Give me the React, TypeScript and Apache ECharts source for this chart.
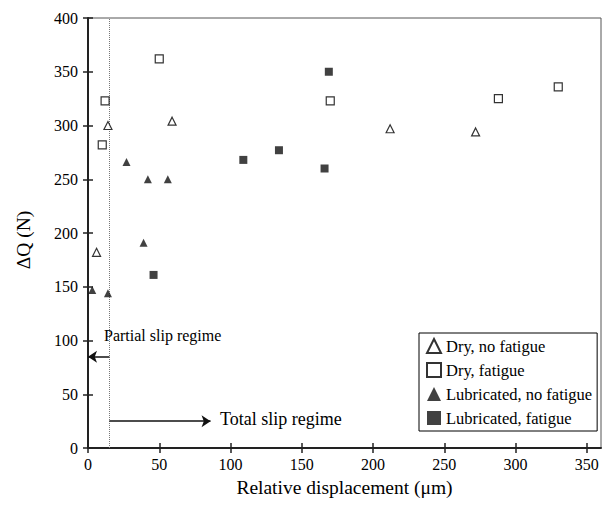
import React, { useEffect, useRef } from "react";
import * as echarts from "echarts";

const dryNoFatigue: [number, number][] = [
  [6, 182], [14, 300], [59, 304], [212, 297], [272, 294],
];
const dryFatigue: [number, number][] = [
  [10, 282], [12, 323], [50, 362], [170, 323], [288, 325], [330, 336],
];
const lubNoFatigue: [number, number][] = [
  [3, 147], [14, 144], [27, 266], [39, 191], [42, 250], [56, 250],
];
const lubFatigue: [number, number][] = [
  [46, 161], [109, 268], [134, 277], [166, 260], [169, 350],
];
const xTicks = [0, 50, 100, 150, 200, 250, 300, 350];
const yTicks = [0, 50, 100, 150, 200, 250, 300, 350, 400];
const transitionX = 15;
const partialArrowY = 85;
const totalArrowY = 25;
const totalArrowEnd = 86;

const FONT = "'Liberation Serif', 'Times New Roman', serif";

export default function App() {
  const ref = useRef<HTMLDivElement>(null);
  useEffect(() => {
    document.body.style.margin = "0";
    const chart = echarts.init(ref.current!, null, { renderer: "svg" });
    const openStyle = { color: "#fff", borderColor: "#000", borderWidth: 1.2 };
    const fillStyle = { color: "#111", borderColor: "#111", borderWidth: 0 };
    const axisCommon = {
      type: "value" as const,
      splitLine: { show: false },
    };
    chart.setOption({
      animation: false,
      backgroundColor: "#fff",
      textStyle: { fontFamily: FONT, color: "#000" },
      grid: {
        left: 88, right: 5, top: 18, bottom: 59,
        show: true, borderColor: "#555", borderWidth: 1,
      },
      legend: {
        orient: "vertical",
        left: 419, top: 333,
        padding: [4, 5, 4, 7],
        itemGap: 6,
        itemWidth: 14, itemHeight: 14,
        borderColor: "#000", borderWidth: 1,
        backgroundColor: "#fff",
        textStyle: { fontFamily: FONT, fontSize: 16.5, color: "#000", lineHeight: 18 },
        data: ["Dry, no fatigue", "Dry, fatigue", "Lubricated, no fatigue", "Lubricated, fatigue"],
      },
      xAxis: [
        {
          ...axisCommon,
          min: 0, max: 360, interval: 50,
          name: "Relative displacement (\u03bcm)",
          nameLocation: "middle",
          nameGap: 29,
          nameTextStyle: { fontFamily: FONT, fontSize: 19.5, color: "#000" },
          axisLine: { lineStyle: { color: "#222", width: 2 } },
          axisTick: { inside: false, length: 5, customValues: xTicks, lineStyle: { color: "#222", width: 1.5 } },
          axisLabel: { customValues: xTicks, fontFamily: FONT, fontSize: 16, color: "#000", margin: 8 },
        },
        {
          ...axisCommon,
          min: 0, max: 360, interval: 50,
          position: "bottom",
          axisLine: { show: false },
          axisTick: { inside: true, length: 5, customValues: xTicks, lineStyle: { color: "#222", width: 1.5 } },
          axisLabel: { show: false },
        },
      ],
      yAxis: [
        {
          ...axisCommon,
          min: 0, max: 400, interval: 50,
          name: "\u0394Q (N)",
          nameLocation: "middle",
          nameGap: 55,
          nameTextStyle: { fontFamily: FONT, fontSize: 19.5, color: "#000", padding: [0, 14, 0, 0] },
          axisLine: { lineStyle: { color: "#222", width: 2 } },
          axisTick: { inside: false, length: 5, customValues: yTicks, lineStyle: { color: "#222", width: 1.5 } },
          axisLabel: { customValues: yTicks, fontFamily: FONT, fontSize: 16, color: "#000", margin: 10 },
        },
        {
          ...axisCommon,
          min: 0, max: 400, interval: 50,
          position: "left",
          axisLine: { show: false },
          axisTick: { inside: true, length: 5, customValues: yTicks, lineStyle: { color: "#222", width: 1.5 } },
          axisLabel: { show: false },
        },
      ],
      series: [
        {
          name: "Dry, no fatigue",
          type: "scatter",
          symbol: "triangle",
          symbolSize: 8,
          itemStyle: openStyle,
          data: dryNoFatigue,
          z: 5,
          markLine: {
            silent: true,
            symbol: "none",
            label: { show: false },
            lineStyle: { type: "dotted", color: "#777", width: 1 },
            data: [{ xAxis: transitionX }],
          },
        },
        {
          name: "Dry, fatigue",
          type: "scatter",
          symbol: "rect",
          symbolSize: 8,
          itemStyle: openStyle,
          data: dryFatigue,
          z: 5,
          markLine: {
            silent: true,
            symbol: ["none", "arrow"],
            symbolSize: 9,
            label: { show: false },
            lineStyle: { type: "solid", color: "#111", width: 1.5 },
            itemStyle: { color: "#111" },
            data: [
              [{ coord: [transitionX, partialArrowY] }, { coord: [0, partialArrowY] }],
              [{ coord: [transitionX, totalArrowY] }, { coord: [totalArrowEnd, totalArrowY] }],
            ],
          },
        },
        {
          name: "Lubricated, no fatigue",
          type: "scatter",
          symbol: "triangle",
          symbolSize: 8,
          itemStyle: fillStyle,
          data: lubNoFatigue,
          z: 5,
        },
        {
          name: "Lubricated, fatigue",
          type: "scatter",
          symbol: "rect",
          symbolSize: 8,
          itemStyle: fillStyle,
          data: lubFatigue,
          z: 5,
        },
      ],
      graphic: [
        {
          type: "text",
          left: 104, top: 327,
          style: { text: "Partial slip regime", fontFamily: FONT, fontSize: 16, fill: "#000" },
        },
        {
          type: "text",
          left: 220, top: 410,
          style: { text: "Total slip regime", fontFamily: FONT, fontSize: 18, fill: "#000" },
        },
      ],
    });
    return () => chart.dispose();
  }, []);
  return <div ref={ref} style={{ width: 606, height: 507 }} />;
}
